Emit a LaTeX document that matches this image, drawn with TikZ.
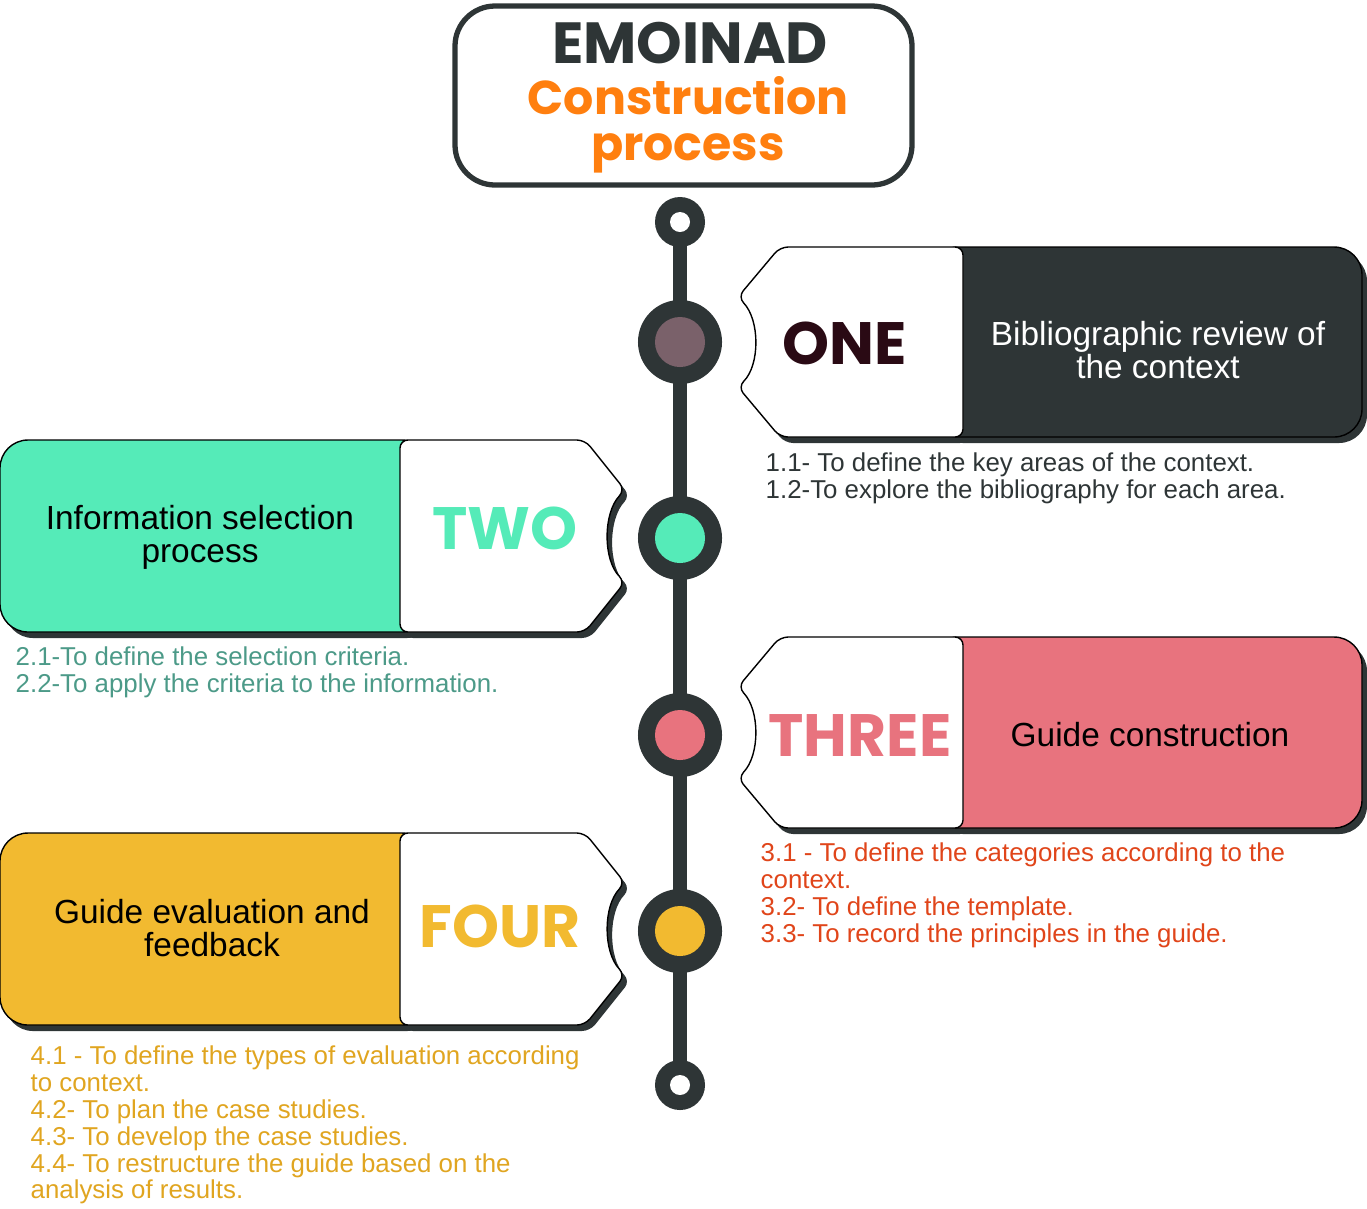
\documentclass[tikz,border=0pt]{standalone}
\usepackage{fontspec}
\setmainfont{Liberation Sans}
\newfontfamily\disp{Poppins}
\usetikzlibrary{positioning}
\definecolor{spine}{HTML}{2E3536}
\definecolor{plum}{HTML}{2A0A14}
\definecolor{mauve}{HTML}{7A616A}
\definecolor{mint}{HTML}{55EBB8}
\definecolor{rose}{HTML}{E8737E}
\definecolor{amber}{HTML}{F2BA30}
\definecolor{tangerine}{HTML}{FF7F0F}
\definecolor{mintdark}{HTML}{4C9A88}
\definecolor{rust}{HTML}{E0451A}
\definecolor{gold}{HTML}{E0A520}

\begin{document}
\begin{tikzpicture}[x=0.01cm,y=-0.01cm]
	\tikzstyle{ring} = [circle, fill=spine, minimum size=0.5cm, inner sep=0]
	\tikzstyle{hole} = [circle, fill=white, minimum size=0.2cm, inner sep=0]
	\tikzstyle{stop} = [circle, fill=spine, minimum size=0.84cm, inner sep=0]
	\tikzstyle{dot} = [circle, minimum size=0.5cm, inner sep=0]
	\tikzstyle{num} = [font=\disp\bfseries\fontsize{17}{17}\selectfont]
	\tikzstyle{cardtxt} = [align=center, font=\fontsize{9.5}{9.3}\selectfont]
	\tikzstyle{items} = [align=left, anchor=north west, inner sep=0, font=\fontsize{7.35}{7.65}\selectfont]
	\tikzstyle{edge} = [draw=black, line width=0.4pt]
	\tikzstyle{shade} = [fill=spine, shift={(5,6)}]
	\useasboundingbox (0,0) rectangle (1367,1208);

	% title
	\draw [spine, line width=1.5pt, fill=white, rounded corners=0.4cm] (455,6) rectangle (912,185);
	\node (t1) at (690,43) {\disp\bfseries\fontsize{16.5}{16}\selectfont\color{spine}EMOINAD};
	\node (t2) at (688,96) {\disp\bfseries\fontsize{13.5}{13}\selectfont\color{tangerine}Construction};
	\node (t3) at (688,153) {\disp\bfseries\fontsize{13.5}{13}\selectfont\color{tangerine}process};

	% spine
	\coordinate (top) at (680,222);
	\coordinate (bot) at (680,1085);
	\draw [spine, line width=4pt] (top) -- (bot);
	\node [ring] (rt) at (top) {};
	\node [hole] at (rt) {};
	\node [ring] (rb) at (bot) {};
	\node [hole] at (rb) {};
	\node [stop] (s1) at (680,342) {};
	\node [dot, fill=mauve] at (s1) {};
	\node [stop] (s2) at (680,538) {};
	\node [dot, fill=mint] at (s2) {};
	\node [stop] (s3) at (680,735) {};
	\node [dot, fill=rose] at (s3) {};
	\node [stop] (s4) at (680,931) {};
	\node [dot, fill=amber] at (s4) {};

	% card one
	\fill [shade, rounded corners=0.28cm] (930,247) rectangle (1362,437);
	\fill [shade, rounded corners=0.08cm] (963,247) -- (780,247) -- (738,297) .. controls (760,320) and (760,365) .. (738,387) -- (780,437) -- (963,437) -- cycle;
	\draw [edge, fill=spine, rounded corners=0.28cm] (930,247) rectangle (1362,437);
	\draw [edge, fill=white, rounded corners=0.08cm] (963,247) -- (780,247) -- (738,297) .. controls (760,320) and (760,365) .. (738,387) -- (780,437) -- (963,437) -- cycle;
	\node [num, text=plum] (one) at (845,343) {ONE};
	\node [cardtxt, text=white] (c1) at (1158,350) {Bibliographic review of\\the context};
	\node [items, text=spine] (i1) at (765,452) {1.1- To define the key areas of the context.\\1.2-To explore the bibliography for each area.};

	% card two
	\fill [shade, rounded corners=0.28cm] (0,440) rectangle (430,632);
	\fill [shade, rounded corners=0.08cm] (400,440) -- (585,440) -- (625,490) .. controls (603,513) and (603,560) .. (625,582) -- (585,632) -- (400,632) -- cycle;
	\draw [edge, fill=mint, rounded corners=0.28cm] (0,440) rectangle (430,632);
	\draw [edge, fill=white, rounded corners=0.08cm] (400,440) -- (585,440) -- (625,490) .. controls (603,513) and (603,560) .. (625,582) -- (585,632) -- (400,632) -- cycle;
	\node [num, text=mint] (two) at (505,528) {TWO};
	\node [cardtxt] (c2) at (200,537) {Information selection\\process};
	\node [items, text=mintdark] (i2) at (15,646) {2.1-To define the selection criteria.\\2.2-To apply the criteria to the information.};

	% card three
	\fill [shade, rounded corners=0.28cm] (930,637) rectangle (1362,828);
	\fill [shade, rounded corners=0.08cm] (963,637) -- (780,637) -- (738,687) .. controls (760,710) and (760,755) .. (738,778) -- (780,828) -- (963,828) -- cycle;
	\draw [edge, fill=rose, rounded corners=0.28cm] (930,637) rectangle (1362,828);
	\draw [edge, fill=white, rounded corners=0.08cm] (963,637) -- (780,637) -- (738,687) .. controls (760,710) and (760,755) .. (738,778) -- (780,828) -- (963,828) -- cycle;
	\node [num, text=rose] (three) at (860,735) {THREE};
	\node [cardtxt] (c3) at (1150,735) {Guide construction};
	\node [items, text=rust] (i3) at (760,842) {3.1 - To define the categories according to the\\context.\\3.2- To define the template.\\3.3- To record the principles in the guide.};

	% card four
	\fill [shade, rounded corners=0.28cm] (0,833) rectangle (430,1025);
	\fill [shade, rounded corners=0.08cm] (400,833) -- (585,833) -- (625,883) .. controls (603,906) and (603,952) .. (625,975) -- (585,1025) -- (400,1025) -- cycle;
	\draw [edge, fill=amber, rounded corners=0.28cm] (0,833) rectangle (430,1025);
	\draw [edge, fill=white, rounded corners=0.08cm] (400,833) -- (585,833) -- (625,883) .. controls (603,906) and (603,952) .. (625,975) -- (585,1025) -- (400,1025) -- cycle;
	\node [num, text=amber] (four) at (500,926) {FOUR};
	\node [cardtxt] (c4) at (212,928) {Guide evaluation and\\feedback};
	\node [items, text=gold] (i4) at (30,1045) {4.1 - To define the types of evaluation according\\to context.\\4.2- To plan the case studies.\\4.3- To develop the case studies.\\4.4- To restructure the guide based on the\\analysis of results.};
\end{tikzpicture}
\end{document}
